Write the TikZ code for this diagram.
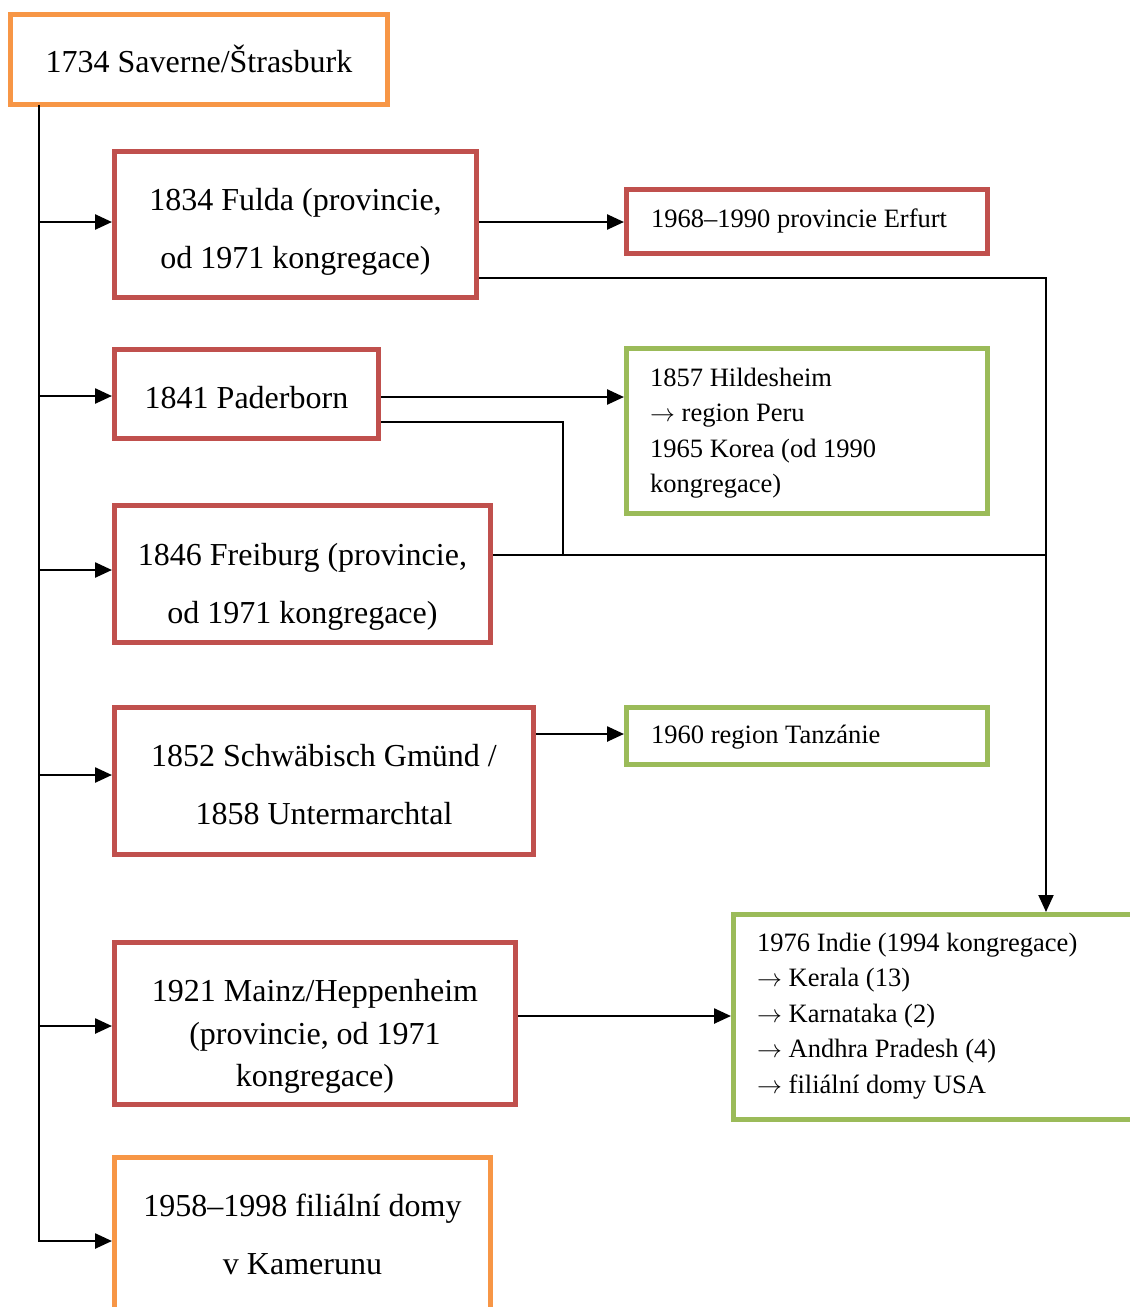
\documentclass[tikz,border=0pt]{standalone}
\usepackage{fontspec}
\setmainfont{Liberation Serif}
\usetikzlibrary{arrows.meta}
\definecolor{borange}{HTML}{F79646}
\definecolor{bred}{HTML}{C0504D}
\definecolor{bgreen}{HTML}{9BBB59}
\newcommand{\ar}{$\rightarrow$}
\begin{document}
\begin{tikzpicture}[x=1pt,y=-1pt,
  box/.style={draw,line width=5pt,inner sep=0pt,fill=white},
  txt/.style={inner sep=0pt,align=center},
  big/.style={txt,font=\fontsize{32}{58}\selectfont},
  small/.style={txt,align=left,font=\fontsize{26.5}{35.5}\selectfont},
  conn/.style={line width=2.5pt},
  thin/.style={line width=2pt},
  tip/.style={-{Triangle[length=17pt,width=15pt]}},
  arr/.style={conn,tip}]
\useasboundingbox (0,0) rectangle (1130,1307);
% boxes
\node[box,draw=borange,minimum width=377pt,minimum height=90pt] (sav) at (199,59.5) {};
\node[box,draw=bred,minimum width=362pt,minimum height=146pt] (fulda) at (295.5,224.5) {};
\node[box,draw=bred,minimum width=361pt,minimum height=64pt] (erf) at (807,221.5) {};
\node[box,draw=bred,minimum width=264pt,minimum height=89pt] (pad) at (246.5,394) {};
\node[box,draw=bgreen,minimum width=361pt,minimum height=165pt] (hil) at (807,431) {};
\node[box,draw=bred,minimum width=376pt,minimum height=137pt] (frei) at (302.5,574) {};
\node[box,draw=bred,minimum width=419pt,minimum height=147pt] (schw) at (324,781) {};
\node[box,draw=bgreen,minimum width=361pt,minimum height=57pt] (tan) at (807,736) {};
\node[box,draw=bred,minimum width=401pt,minimum height=162pt] (mainz) at (315,1023.5) {};
\node[box,draw=bgreen,minimum width=416.5pt,minimum height=205pt] (india) at (941.75,1017) {};
\node[box,draw=borange,minimum width=376pt,minimum height=167pt] (kam) at (302.5,1241) {};
% texts
\node[big] (savT) at (199,58.5) {1734 Saverne/Štrasburk};
\node[big] (fuldaT) at (295.5,231.5) {1834 Fulda (provincie,\\od 1971 kongregace)};
\node[small,anchor=west] (erfT) at (651,221) {1968–1990 provincie Erfurt};
\node[big] (padT) at (246.5,398) {1841 Paderborn};
\node[small,anchor=west] (hilT) at (650,433) {1857 Hildesheim\\\ar{} region Peru\\1965 Korea (od 1990\\kongregace)};
\node[big] (freiT) at (302.5,587) {1846 Freiburg (provincie,\\od 1971 kongregace)};
\node[big] (schwT) at (324,785) {1852 Schwäbisch Gmünd /\\1858 Untermarchtal};
\node[small,anchor=west] (tanT) at (651,737) {1960 region Tanzánie};
\node[big,font=\fontsize{32}{42.5}\selectfont] (mainzT) at (315,1036.5) {1921 Mainz/Heppenheim\\(provincie, od 1971\\kongregace)};
\node[small,anchor=west] (indiaT) at (757,1016) {1976 Indie (1994 kongregace)\\\ar{} Kerala (13)\\\ar{} Karnataka (2)\\\ar{} Andhra Pradesh (4)\\\ar{} filiální domy USA};
\node[big] (kamT) at (302.5,1234.5) {1958–1998 filiální domy\\v Kamerunu};
% trunk
\coordinate (tk) at (39,104.5);
\draw[arr] (tk) |- (kam.west);
\draw[arr] (tk |- 0,222) -- (fulda.west |- 0,222);
\draw[arr] (tk |- 0,396) -- (pad.west |- 0,396);
\draw[arr] (tk |- 0,570) -- (frei.west |- 0,570);
\draw[arr] (tk |- 0,775) -- (schw.west |- 0,775);
\draw[arr] (tk |- 0,1026) -- (mainz.west |- 0,1026);
% right-hand connectors
\draw[arr] (fulda.east |- 0,222) -- (erf.west |- 0,222);
\draw[arr] (pad.east |- 0,397) -- (hil.west |- 0,397);
\draw[arr] (schw.east |- 0,734) -- (tan.west |- 0,734);
\draw[arr] (mainz.east |- 0,1016) -- (india.west |- 0,1016);
\draw[thin,tip] (fulda.east |- 0,278) -| (1046,0 |- india.north);
\draw[thin] (pad.east |- 0,422) -| (563,555);
\draw[thin] (frei.east |- 0,555) -- (1046,555);
\end{tikzpicture}
\end{document}
